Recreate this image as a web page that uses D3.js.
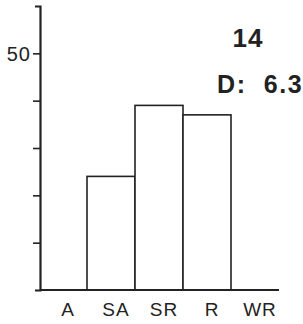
<!DOCTYPE html>
<html><head><meta charset="utf-8">
<script src="https://cdn.jsdelivr.net/npm/d3@7"></script>
<style>
html,body{margin:0;padding:0;background:#fff;}
svg{display:block;}
text{font-family:"Liberation Sans",Arial,sans-serif;fill:#222;}
</style></head>
<body>
<svg id="c" width="303" height="324"></svg>
<script>
const categories = ["A","SA","SR","R","WR"];
const values = [0, 24, 39, 37, 0];
const yTicks = [10,20,30,40,50];
const yLabels = {50:"50"};
const title = "14";
const subtitle = "D:  6.3";

const svg = d3.select("#c");
const x = d3.scaleBand().domain(categories).range([39,279]).padding(0);
const y = d3.scaleLinear().domain([0,60]).range([290,6]);

// bars
svg.selectAll("rect.bar").data(categories.map((c,i)=>({c,v:values[i]})).filter(d=>d.v>0))
  .enter().append("rect").attr("class","bar")
  .attr("x",d=>x(d.c)).attr("width",x.bandwidth())
  .attr("y",d=>y(d.v)).attr("height",d=>y(0)-y(d.v))
  .attr("fill","#fff").attr("stroke","#222").attr("stroke-width",1.6);

// y axis
const yAxis = d3.axisLeft(y).tickValues(yTicks).tickSize(7).tickSizeOuter(5).tickPadding(2)
  .tickFormat(d=>yLabels[d]||"");
const gy = svg.append("g").attr("transform","translate(40,0)").call(yAxis);
gy.select(".domain").attr("stroke","#222").attr("stroke-width",2.2);
gy.selectAll(".tick line").attr("stroke","#222").attr("stroke-width",1.6);
gy.selectAll(".tick text").style("font-size","20px").style("letter-spacing","1px").attr("fill","#333").attr("dy","0.36em");

// x axis
const xAxis = d3.axisBottom(x).tickSize(0).tickSizeOuter(0).tickPadding(12);
const gx = svg.append("g").attr("transform","translate(0,290)").call(xAxis);
gx.select(".domain").attr("stroke","#222").attr("stroke-width",2.2).attr("d","M40,0H279");
gx.selectAll(".tick text").style("font-size","19px").style("letter-spacing","1px").attr("fill","#333").attr("dx",5).attr("dy","0.72em");

// annotations
svg.append("text").attr("x",248).attr("y",47).attr("text-anchor","middle")
  .style("font-size","26px").style("font-weight","bold").style("letter-spacing","1px").text(title);
svg.append("text").attr("x",217).attr("y",93).attr("text-anchor","start")
  .style("font-size","25px").style("font-weight","bold").style("letter-spacing","1.6px").style("white-space","pre")
  .attr("xml:space","preserve").text(subtitle);
</script>
</body></html>
